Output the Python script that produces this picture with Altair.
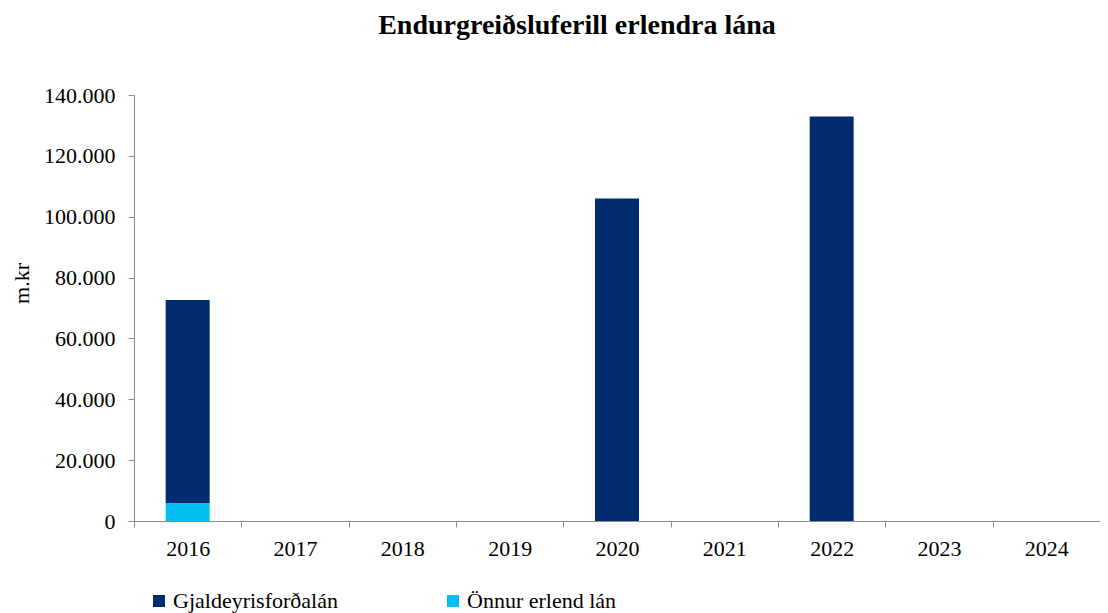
import altair as alt
import pandas as pd

years = ["2016", "2017", "2018", "2019", "2020", "2021", "2022", "2023", "2024"]
gjaldeyris = [66700, 0, 0, 0, 106000, 0, 132900, 0, 0]
onnur = [5900, 0, 0, 0, 0, 0, 0, 0, 0]
series = ["Gjaldeyrisforðalán", "Önnur erlend lán"]
colors = ["#002B6E", "#00BFF3"]
y_ticks = [0, 20000, 40000, 60000, 80000, 100000, 120000, 140000]

rows = []
for i, y in enumerate(years):
    rows.append({"year": y, "series": series[0], "value": gjaldeyris[i], "ord": 1})
    rows.append({"year": y, "series": series[1], "value": onnur[i], "ord": 0})
df = pd.DataFrame(rows)

FONT = "Liberation Serif"

chart = alt.Chart(df).mark_bar(width=alt.RelativeBandSize(0.41)).encode(
    x=alt.X("year:N", sort=years,
            scale=alt.Scale(paddingInner=0, paddingOuter=0),
            axis=alt.Axis(title=None, labelAngle=0, tickBand="extent",
                          tickSize=6, labelPadding=11, labelFontSize=22,
                          labelFont=FONT, labelColor="#000000",
                          domainColor="#8C8C8C", tickColor="#8C8C8C")),
    y=alt.Y("value:Q", stack="zero",
            scale=alt.Scale(domain=[0, 140000], nice=False),
            axis=alt.Axis(title="m.kr", values=y_ticks, grid=False,
                          labelExpr="replace(format(datum.value, ','), ',', '.')",
                          tickSize=6, labelPadding=13, labelFontSize=22,
                          labelFont=FONT, labelColor="#000000",
                          titleFont=FONT, titleFontSize=22, titleFontWeight="normal",
                          titleColor="#000000", titleX=-113, titleY=188,
                          titleAngle=270, titleAlign="center", titleBaseline="middle",
                          domainColor="#8C8C8C", tickColor="#8C8C8C")),
    color=alt.Color("series:N", scale=alt.Scale(domain=series, range=colors),
                    legend=alt.Legend(title=None, orient="none", direction="horizontal",
                                      legendX=14, legendY=495, symbolType="square",
                                      symbolSize=144, symbolStrokeWidth=0,
                                      labelFont=FONT, labelFontSize=22, labelLimit=400,
                                      labelColor="#000000", labelOffset=3,
                                      columnPadding=104, padding=0)),
    order=alt.Order("ord:Q", sort="ascending"),
).properties(
    width=966,
    height=426,
    padding={"left": 126, "top": 87, "right": 0, "bottom": 93},
    autosize=alt.AutoSizeParams(type="none"),
    title=alt.TitleParams("Endurgreiðsluferill erlendra lána", font=FONT,
                          fontSize=28, fontWeight="bold", color="#000000",
                          anchor="middle", frame="group", dx=-40, offset=44),
).configure(font=FONT).configure_view(stroke=None)

chart.save("out.html", embed_options={"renderer": "svg", "actions": False})
